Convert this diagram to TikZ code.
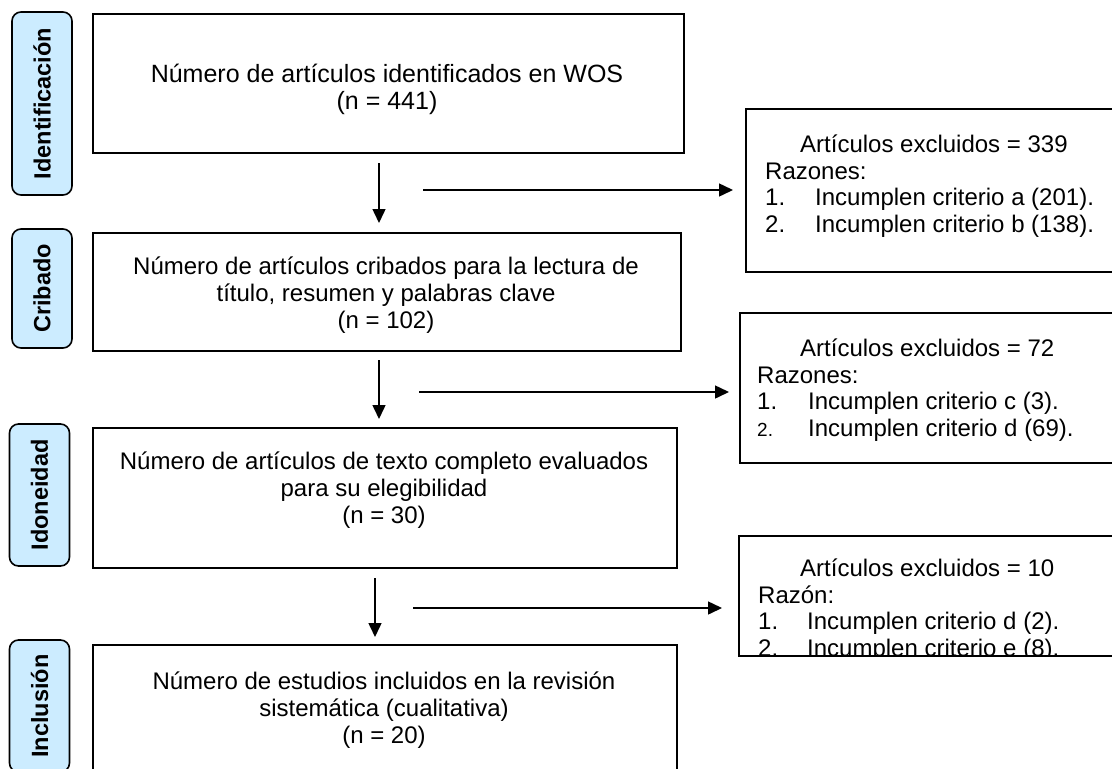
\documentclass[tikz,border=0pt]{standalone}
\usepackage{fontspec}
\setmainfont{Liberation Sans}
\usetikzlibrary{positioning,arrows.meta,calc}
\definecolor{phaseblue}{RGB}{204,236,255}
\tikzset{
  phase/.style={draw=black, line width=1.6pt, fill=phaseblue, rounded corners=9pt,
    minimum height=60pt, inner sep=0pt, rotate=90,
    font=\fontsize{23.5}{26}\selectfont\bfseries},
  stagebox/.style={draw=black, line width=1.5pt, fill=white, inner sep=0pt, anchor=north west},
  stagetxt/.style={align=center, inner sep=0pt, font=\fontsize{24}{27}\selectfont},
  exclbox/.style={draw=black, line width=1.5pt, inner sep=0pt, anchor=north west},
  excltxt/.style={align=left, anchor=west, inner sep=0pt, font=\fontsize{24}{26.5}\selectfont},
  flow/.style={line width=1.5pt, -{Triangle[length=14pt,width=13pt]}}
}

\begin{document}
\begin{tikzpicture}[x=1pt,y=-1pt]
    \clip (0,0) rectangle (1112,769);

    % phases
    \node[phase, minimum width=183pt] (idf) at (42,103.5) {Identificación};
    \node[phase, minimum width=119pt] (crb) at (42,288.5) {Cribado};
    \node[phase, minimum width=142pt] (ido) at (39.5,495) {Idoneidad};
    \node[phase, minimum width=132pt] (inc) at (39.5,706) {Inclusión};

    % stages
    \node[stagebox, minimum width=591pt, minimum height=139pt] (n1) at (92,13) {};
    \node[stagebox, minimum width=588pt, minimum height=118pt] (n2) at (92,232) {};
    \node[stagebox, minimum width=584pt, minimum height=140pt] (n3) at (92,427) {};
    \node[stagebox, minimum width=584pt, minimum height=134pt] (n4) at (92,644) {};

    \node[stagetxt, font=\fontsize{25}{27}\selectfont] (t1) at (387,89) {Número de artículos identificados en WOS\\(n = 441)};
    \begin{scope}
      \clip (n2.north west) rectangle ($(n2.south east)+(0,-17)$);
      \node[stagetxt] (t2) at (386,295) {Número de artículos cribados para la lectura de\\título, resumen y palabras clave\\(n = 102)};
    \end{scope}
    \node[stagetxt] (t3) at (384,490) {Número de artículos de texto completo evaluados\\para su elegibilidad\\(n = 30)};
    \node[stagetxt] (t4) at (384,710) {Número de estudios incluidos en la revisión\\sistemática (cualitativa)\\(n = 20)};

    % exclusions
    \node[exclbox, minimum width=400pt, minimum height=163pt] (x1) at (745,108) {};
    \node[exclbox, minimum width=400pt, minimum height=150pt] (x2) at (739,312) {};
    \node[exclbox, minimum width=400pt, minimum height=120pt] (x3) at (738,535) {};

    \node[excltxt] (e1) at (765,186) {\hspace*{35pt}Artículos excluidos = 339\\Razones:\\
      \makebox[50pt][l]{1.}Incumplen criterio a (201).\\\makebox[50pt][l]{2.}Incumplen criterio b (138).};
    \node[excltxt] (e2) at (757,390) {\hspace*{43pt}Artículos excluidos = 72\\Razones:\\
      \makebox[51pt][l]{1.}Incumplen criterio c (3).\\\makebox[51pt][l]{\fontsize{19}{26.5}\selectfont 2.}Incumplen criterio d (69).};
    \begin{scope}
      \clip (x3.north west) rectangle (x3.south east);
      \node[excltxt] (e3) at (758,610) {\hspace*{42pt}Artículos excluidos = 10\\Razón:\\
        \makebox[49pt][l]{1.}Incumplen criterio d (2).\\\makebox[49pt][l]{2.}Incumplen criterio e (8).};
    \end{scope}

    % arrows
    \coordinate (d1a) at (379,163);
    \coordinate (d1b) at (379,223);
    \coordinate (r1a) at (423,190);
    \coordinate (r1b) at (733,190);
    \coordinate (d2a) at (379,360);
    \coordinate (d2b) at (379,419);
    \coordinate (r2a) at (419,392);
    \coordinate (r2b) at (729,392);
    \coordinate (d3a) at (375,578);
    \coordinate (d3b) at (375,637);
    \coordinate (r3a) at (413,608);
    \coordinate (r3b) at (722,608);

    \draw[flow] (d1a) -- (d1b);
    \draw[flow] (r1a) -- (r1b);
    \draw[flow] (d2a) -- (d2b);
    \draw[flow] (r2a) -- (r2b);
    \draw[flow] (d3a) -- (d3b);
    \draw[flow] (r3a) -- (r3b);
\end{tikzpicture}
\end{document}
